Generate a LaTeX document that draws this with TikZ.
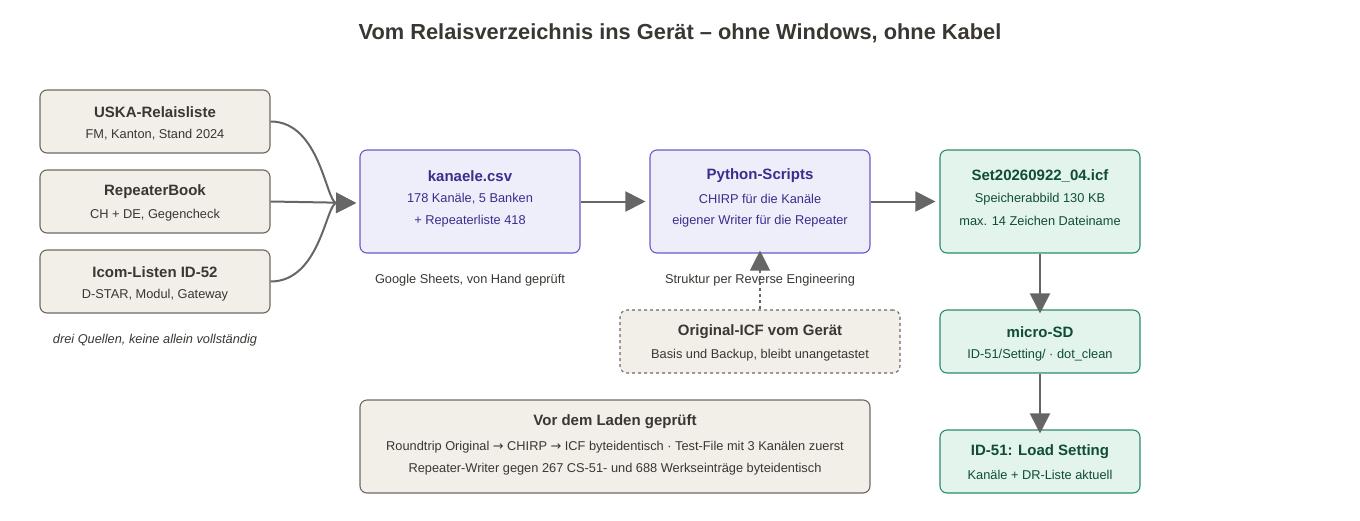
\documentclass[tikz,border=0pt]{standalone}
\usepackage{fontspec}
\setmainfont{Liberation Sans}
\newfontfamily\djv{DejaVu Sans}
\usetikzlibrary{arrows.meta}
\definecolor{bfill}{HTML}{F2EFE9}\definecolor{bdraw}{HTML}{6E6862}\definecolor{btext}{HTML}{3A3632}
\definecolor{pfill}{HTML}{EEEEFB}\definecolor{pdraw}{HTML}{6A5BC4}\definecolor{ptext}{HTML}{3A2D8C}
\definecolor{gfill}{HTML}{E3F4EC}\definecolor{gdraw}{HTML}{2F8A68}\definecolor{gtext}{HTML}{0F4D38}
\definecolor{arr}{HTML}{666666}
\begin{document}
\begin{tikzpicture}[x=1pt,y=-1pt,
 box/.style={rounded corners=7pt,line width=1.1pt,inner sep=0pt,align=center},
 beige/.style={box,fill=bfill,draw=bdraw,text=btext},
 purp/.style={box,fill=pfill,draw=pdraw,text=ptext},
 grn/.style={box,fill=gfill,draw=gdraw,text=gtext},
 ttl/.style={font=\fontsize{15}{17}\selectfont\bfseries},
 sub/.style={font=\fontsize{12.8}{15}\selectfont},
 capt/.style={font=\fontsize{12.8}{15}\selectfont,text=btext},
 ar/.style={draw=arr,line width=2pt,-{Triangle[length=20pt,width=20pt]}}]
\useasboundingbox (0,0) rectangle (1360,520);
\node[font=\fontsize{21.8}{26}\selectfont\bfseries,text=btext] (title) at (680,33) {Vom Relaisverzeichnis ins Gerät – ohne Windows, ohne Kabel};
% sources
\node[beige,minimum width=230pt,minimum height=63pt] (uska) at (155,121.5) {};
\node[ttl,text=btext] at (155,112) {USKA-Relaisliste};
\node[sub,text=btext] at (155,135) {FM, Kanton, Stand 2024};
\node[beige,minimum width=230pt,minimum height=63pt] (rb) at (155,201.5) {};
\node[ttl,text=btext] at (155,192) {RepeaterBook};
\node[sub,text=btext] at (155,215) {CH + DE, Gegencheck};
\node[beige,minimum width=230pt,minimum height=63pt] (icom) at (155,281.5) {};
\node[ttl,text=btext] at (155,272) {Icom-Listen ID-52};
\node[sub,text=btext] at (155,295) {D-STAR, Modul, Gateway};
\node[capt,font=\fontsize{12.8}{15}\selectfont\itshape] (c1) at (155,340) {drei Quellen, keine allein vollständig};
% kanaele
\node[purp,minimum width=220pt,minimum height=103pt] (kan) at (470,201.5) {};
\node[ttl,text=ptext] at (470,176) {kanaele.csv};
\node[sub,text=ptext] at (470,199) {178 Kanäle, 5 Banken};
\node[sub,text=ptext] at (470,221) {+ Repeaterliste 418};
\node[capt] (c2) at (470,280) {Google Sheets, von Hand geprüft};
% python
\node[purp,minimum width=220pt,minimum height=103pt] (py) at (760,201.5) {};
\node[ttl,text=ptext] at (760,176) {Python-Scripts};
\node[sub,text=ptext] at (760,199) {CHIRP für die Kanäle};
\node[sub,text=ptext] at (760,221) {eigener Writer für die Repeater};
\node[capt] (c3) at (760,280) {Struktur per Reverse Engineering};
% set
\node[grn,minimum width=200pt,minimum height=103pt] (set) at (1040,201.5) {};
\node[ttl,text=gtext] at (1040,176) {Set20260922\_04.icf};
\node[sub,text=gtext] at (1040,199) {Speicherabbild 130 KB};
\node[sub,text=gtext] at (1040,221) {max. 14 Zeichen Dateiname};
\node[grn,minimum width=200pt,minimum height=63pt] (sd) at (1040,341.5) {};
\node[ttl,text=gtext] at (1040,332) {micro-SD};
\node[sub,text=gtext] at (1040,355) {ID-51/Setting/ · dot\_clean};
\node[grn,minimum width=200pt,minimum height=63pt] (id) at (1040,461.5) {};
\node[ttl,text=gtext] at (1040,452) {ID-51: Load Setting};
\node[sub,text=gtext] at (1040,475) {Kanäle + DR-Liste aktuell};
% original
\node[beige,dashed,minimum width=280pt,minimum height=63pt] (orig) at (760,341.5) {};
\node[ttl,text=btext] at (760,332) {Original-ICF vom Gerät};
\node[sub,text=btext] at (760,355) {Basis und Backup, bleibt unangetastet};
% check
\node[beige,minimum width=510pt,minimum height=93pt] (chk) at (615,446.5) {};
\node[ttl,text=btext] at (615,422) {Vor dem Laden geprüft};
\node[sub,text=btext] at (615,447) {Roundtrip Original {\djv →} CHIRP {\djv →} ICF byteidentisch · Test-File mit 3 Kanälen zuerst};
\node[sub,text=btext] at (615,469) {Repeater-Writer gegen 267 CS-51- und 688 Werkseinträge byteidentisch};
% arrows
\coordinate (m) at (356,203);
\draw[ar] (uska.east) .. controls +(50,0) and +(-30,0) .. (m);
\draw[ar] (rb.east) -- (m);
\draw[ar] (icom.east) .. controls +(50,0) and +(-30,0) .. (m);
\draw[ar] (kan.east) -- ([xshift=-4pt]py.west);
\draw[ar] (py.east) -- ([xshift=-4pt]set.west);
\draw[ar] (set.south) -- ([yshift=-4pt]sd.north);
\draw[ar] (sd.south) -- ([yshift=-4pt]id.north);
\draw[ar,dashed,line width=1.2pt] (orig.north) -- ([yshift=3pt]py.south);
\end{tikzpicture}
\end{document}
